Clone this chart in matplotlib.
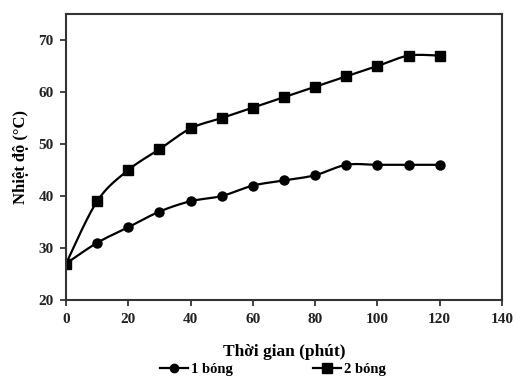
import numpy as np
import matplotlib
matplotlib.use("Agg")
import matplotlib.pyplot as plt
from matplotlib.lines import Line2D

time_min = [0, 10, 20, 30, 40, 50, 60, 70, 80, 90, 100, 110, 120]
temp_1 = [27, 31, 34, 37, 39, 40, 42, 43, 44, 46, 46, 46, 46]
temp_2 = [27, 39, 45, 49, 53, 55, 57, 59, 61, 63, 65, 67, 67]
series_labels = ["1 bóng", "2 bóng"]
x_ticks = [0, 20, 40, 60, 80, 100, 120, 140]
y_ticks = [20, 30, 40, 50, 60, 70]


def smooth(x, y, n=20, tension=0.5):
    """Catmull-Rom curve through the points (spreadsheet-style smoothed line)."""
    x = np.asarray(x, float)
    y = np.asarray(y, float)
    px = np.concatenate([[x[0]], x, [x[-1]]])
    py = np.concatenate([[y[0]], y, [y[-1]]])
    xs, ys = [], []
    for i in range(1, len(px) - 2):
        p0, p1, p2, p3 = (np.array([px[j], py[j]]) for j in (i - 1, i, i + 1, i + 2))
        m1 = tension * (p2 - p0)
        m2 = tension * (p3 - p1)
        t = np.linspace(0, 1, n, endpoint=(i == len(px) - 3))
        h00 = 2 * t**3 - 3 * t**2 + 1
        h10 = t**3 - 2 * t**2 + t
        h01 = -2 * t**3 + 3 * t**2
        h11 = t**3 - t**2
        pts = (np.outer(h00, p1) + np.outer(h10, m1) + np.outer(h01, p2) + np.outer(h11, m2))
        xs.extend(pts[:, 0])
        ys.extend(pts[:, 1])
    return np.array(xs), np.array(ys)


plt.rcParams["font.family"] = ["Liberation Serif", "DejaVu Serif"]
plt.rcParams["font.weight"] = "bold"

fig = plt.figure(figsize=(5.17, 3.83), dpi=100)
ax = fig.add_axes([0.1277, 0.2167, 0.8433, 0.7467])

for vals, marker, ms in ((temp_1, "o", 6.5), (temp_2, "s", 7.2)):
    sx, sy = smooth(time_min, vals)
    ax.plot(sx, sy, color="black", lw=1.6, solid_capstyle="round")
    ax.plot(time_min, vals, ls="none", marker=marker, ms=ms, color="black")

ax.set_xlim(0, 140)
ax.set_ylim(20, 75)
ax.set_xticks(x_ticks)
ax.set_yticks(y_ticks)
ax.tick_params(direction="out", length=4, width=1.2, labelsize=11, pad=5, colors="#222222")
for lab in ax.get_xticklabels() + ax.get_yticklabels():
    lab.set_fontweight("bold")
for sp in ax.spines.values():
    sp.set_linewidth(1.5)
    sp.set_color("#333333")

ax.set_xlabel("Thời gian (phút)", fontsize=12.5, fontweight="bold", labelpad=13)
ax.set_ylabel("Nhiệt độ (°C)", fontsize=12, fontweight="bold", labelpad=7)

handles = [
    Line2D([], [], color="black", lw=1.6, marker="o", ms=6),
    Line2D([], [], color="black", lw=1.6, marker="s", ms=6.5),
]
fig.legend(handles, series_labels, loc="center", bbox_to_anchor=(0.528, 0.036),
           ncol=2, frameon=False, prop={"weight": "bold", "size": 10.5},
           handlelength=1.9, handletextpad=0.2, columnspacing=5.5,
           borderpad=0.0)

fig.savefig("out.png", dpi=100)
